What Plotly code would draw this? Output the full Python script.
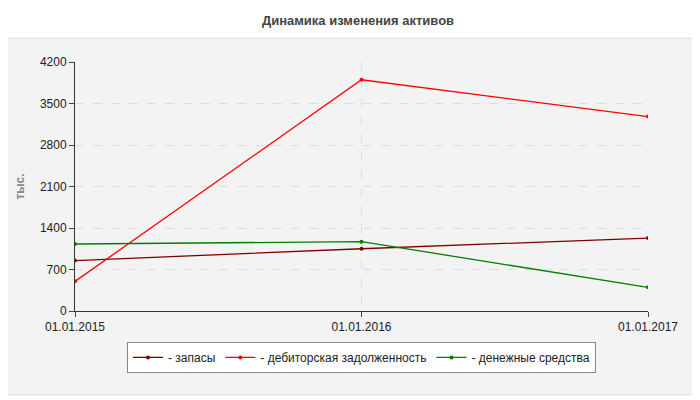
import plotly.graph_objects as go

dates = ["01.01.2015", "01.01.2016", "01.01.2017"]
zapasy = [850, 1050, 1230]
debitor = [500, 3900, 3280]
dengi = [1130, 1170, 400]
names = ["- запасы", "- дебиторская задолженность", "- денежные средства"]
colors = ["#800000", "#ff0000", "#008000"]
yticks = [0, 700, 1400, 2100, 2800, 3500, 4200]

fig = go.Figure()
for name, vals, c in zip(names, [zapasy, debitor, dengi], colors):
    fig.add_trace(go.Scatter(x=[0, 1, 2], y=vals, name=name, mode="lines+markers",
                             line=dict(color=c, width=1.3), marker=dict(size=4, color=c)))

fig.update_layout(
    width=700, height=400, margin=dict(l=67, r=60, t=54, b=97),
    paper_bgcolor="white", plot_bgcolor="#fdfdfa",
    title=dict(text="<b>Динамика изменения активов</b>", x=0.5, y=0.97, yanchor="middle",
               xanchor="center",
               font=dict(family="Liberation Sans, Arial", size=13, color="#444")),
    font=dict(family="Liberation Sans, Arial", size=12, color="#222"),
    xaxis=dict(range=[0, 2], tickvals=[0, 1, 2], ticktext=dates, showgrid=True,
               gridcolor="#dddddd", griddash="dash", showline=True, linecolor="#333",
               ticks="outside", ticklen=5, zeroline=False),
    yaxis=dict(range=[0, 4200], tickvals=yticks, showgrid=True, gridcolor="#dddddd",
               griddash="dash", showline=True, linecolor="#333", ticks="outside",
               ticklen=5, zeroline=False,
               title=dict(text="<b>тыс.</b>", font=dict(size=12, color="#888"), standoff=12)),
    legend=dict(orientation="h", x=0.5, xanchor="center", y=-0.124, yanchor="top",
                bgcolor="white", bordercolor="#888", borderwidth=1,
                font=dict(size=12), itemwidth=30, tracegroupgap=10),
    shapes=[dict(type="rect", xref="paper", yref="paper", x0=-0.131, x1=1.082,
                 y0=-0.337, y1=1.096, fillcolor="#f3f3f3", line=dict(color="#dddddd", width=1),
                 layer="below")],
)
fig.write_html("out.html")
